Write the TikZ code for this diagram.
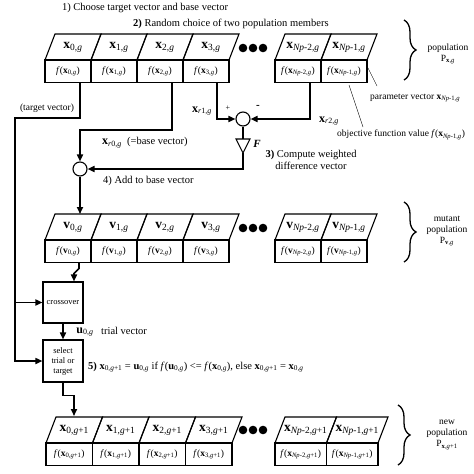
\documentclass[tikz,border=0pt]{standalone}
\usepackage{fontspec}
\setmainfont{Liberation Serif}
\usetikzlibrary{arrows.meta,decorations.pathreplacing}
\newcommand\gi{\textit{g}}
\newcommand\Np{\textit{Np}}
\newcommand\vb[2]{\textbf{#1}\textsubscript{#2}}
\newcommand\fv[2]{\textit{f}(\textbf{#1}\textsubscript{#2})}
% name, x0, ymid, width, top label, f label
\newcommand\pcell[6]{%
  \draw[cell] (#2,#3) -- ++(#4,0) -- ++(10,-26) -- ++(-#4,0) -- cycle;
  \node[toplab] (#1t) at ({#2+#4/2+5},{#3-13}) {#5};
  \node[fcell, minimum width=#4pt] (#1) at ({#2+#4/2},{#3+11.25}) {#6};
}
\begin{document}
\begin{tikzpicture}[x=1pt,y=-1pt,
  cell/.style={line width=1.1pt, line join=miter},
  fcell/.style={draw, line width=1.1pt, minimum height=22.5pt, inner sep=0pt, outer sep=0pt, font=\fontsize{9.5}{11}\selectfont},
  toplab/.style={inner sep=0pt, font=\fontsize{13.5}{16}\selectfont},
  conn/.style={line width=1.6pt},
  arr/.style={conn, -{Triangle[length=7pt,width=6pt]}},
  sumnode/.style={circle, draw, line width=1.1pt, minimum size=14pt, inner sep=0pt},
  procbox/.style={draw, line width=1.1pt, minimum width=40pt, inner sep=1pt, align=center, font=\fontsize{8.5}{10}\selectfont},
  lab/.style={inner sep=0pt, font=\fontsize{10.5}{12}\selectfont},
  small/.style={inner sep=0pt, font=\fontsize{9.5}{11}\selectfont},
  brc/.style={decorate, decoration={brace, amplitude=12pt}, line width=1.3pt},
  pointer/.style={line width=0.4pt},
]
\fill[white] (0,0) rectangle (474,474);
\useasboundingbox (0,0) rectangle (474,474);

% ---------- population x,g ----------
\pcell{fx0}{45}{60}{46}{\vb{x}{0,\gi}}{\fv{x}{0,\gi}}
\pcell{fx1}{91}{60}{46}{\vb{x}{1,\gi}}{\fv{x}{1,\gi}}
\pcell{fx2}{137}{60}{46}{\vb{x}{2,\gi}}{\fv{x}{2,\gi}}
\pcell{fx3}{183}{60}{46}{\vb{x}{3,\gi}}{\fv{x}{3,\gi}}
\pcell{fxa}{275}{60}{46}{\vb{x}{\Np-2,\gi}}{\fv{x}{\Np-2,\gi}}
\pcell{fxb}{321}{60}{46}{\vb{x}{\Np-1,\gi}}{\fv{x}{\Np-1,\gi}}
\foreach \dx in {243,253,263} \fill (\dx,48) circle (4.3pt);

% ---------- mutant population ----------
\pcell{fv0}{45}{240}{46}{\vb{v}{0,\gi}}{\fv{v}{0,\gi}}
\pcell{fv1}{91}{240}{46}{\vb{v}{1,\gi}}{\fv{v}{1,\gi}}
\pcell{fv2}{137}{240}{46}{\vb{v}{2,\gi}}{\fv{v}{2,\gi}}
\pcell{fv3}{183}{240}{46}{\vb{v}{3,\gi}}{\fv{v}{3,\gi}}
\pcell{fva}{275}{240}{46}{\vb{v}{\Np-2,\gi}}{\fv{v}{\Np-2,\gi}}
\pcell{fvb}{321}{240}{46}{\vb{v}{\Np-1,\gi}}{\fv{v}{\Np-1,\gi}}
\foreach \dx in {243,253,263} \fill (\dx,228) circle (4.3pt);

% ---------- new population ----------
\pcell{fn0}{46}{443}{46.5}{\vb{x}{0,\gi+1}}{\fv{x}{0,\gi+1}}
\pcell{fn1}{92.5}{443}{46.5}{\vb{x}{1,\gi+1}}{\fv{x}{1,\gi+1}}
\pcell{fn2}{139}{443}{46.5}{\vb{x}{2,\gi+1}}{\fv{x}{2,\gi+1}}
\pcell{fn3}{185.5}{443}{46.5}{\vb{x}{3,\gi+1}}{\fv{x}{3,\gi+1}}
\pcell{fna}{275}{443}{51.5}{\vb{x}{\Np-2,\gi+1}}{\fv{x}{\Np-2,\gi+1}}
\pcell{fnb}{326.5}{443}{51.5}{\vb{x}{\Np-1,\gi+1}}{\fv{x}{\Np-1,\gi+1}}
\foreach \dx in {243,253,263} \fill (\dx,430) circle (4.3pt);

% ---------- braces and population labels ----------
\draw[brc] (404,20) -- (404,80);
\node[small, align=center] (popx) at (448,54) {population\\P\textsubscript{\textbf{x},\gi}};
\draw[brc] (404,202) -- (404,262);
\node[small, align=center] (popv) at (447,231) {mutant\\population\\P\textsubscript{\textbf{v},\gi}};
\draw[brc] (398,405) -- (398,465);
\node[small, align=center] (popn) at (447,435) {new\\population\\P\textsubscript{\textbf{x},\gi+1}};

% ---------- headings ----------
\node[lab] (h1) at (145,8) {1) Choose target vector and base vector};
\node[lab, anchor=west] (h2) at (133,24) {\textbf{2)} Random choice of two population members};
\node[small, anchor=west] (pv) at (370,98) {parameter vector \vb{x}{\Np-1,\gi}};
\node[small, anchor=west] (ofv) at (337,135) {objective function value \fv{x}{\Np-1,\gi}};
\draw[pointer] (367,66) -- (377,86);
\draw[pointer] (349,85) -- (363,127);

% ---------- difference vector ----------
\node[sumnode] (s1) at (243,119) {};
\node[sumnode] (s2) at (80,169) {};
\coordinate (Ftop) at (243,139);
\coordinate (Fbot) at (243,153);
\draw[line width=1.1pt] (236,139) -- (250,139) -- (Fbot) -- cycle;
\node[inner sep=0pt, font=\fontsize{11}{12}\selectfont\bfseries\itshape] (Flab) at (257,144) {F};
\node[inner sep=0pt, font=\fontsize{8}{9}\selectfont] (plus) at (228,108) {+};
\node[inner sep=0pt, font=\fontsize{11}{12}\selectfont\bfseries] (minus) at (258,107) {-};
\node[small] (xr1) at (202,111) {\fontsize{12}{13}\selectfont\vb{x}{\textit{r}1,\gi}};
\node[small] (xr2) at (329,121) {\fontsize{12}{13}\selectfont\vb{x}{\textit{r}2,\gi}};
\node[lab, align=center] (h3) at (311,160) {\textbf{3)} Compute weighted\\difference vector};
\draw[arr] ([xshift=11pt]fx3.south) |- (s1.west);
\draw[arr] ([xshift=12pt]fxa.south) |- (s1.east);
\draw[conn] (s1.south) -- (Ftop);
\draw[arr] (Fbot) |- (s2.east);

% ---------- base vector and target vector ----------
\coordinate (bturn) at (80,130);
\draw[arr] ([xshift=12pt]fx2.south) |- (bturn) -- (s2.north);
\node[lab, anchor=west] (xr0) at (102,143) {\fontsize{12}{13}\selectfont\vb{x}{\textit{r}0,\gi}\fontsize{10.5}{12}\selectfont\ \ (=base vector)};
\node[lab, anchor=west] (h4) at (103,181) {4) Add to base vector};
\coordinate (v0top) at (80,214);
\draw[arr] (s2.south) -- (v0top);
\node[small] (tv) at (47,108) {(target vector)};

% ---------- crossover and selection ----------
\node[procbox, minimum height=41pt] (cross) at (63,302.5) {crossover};
\node[procbox, minimum height=42pt] (sel) at (63,361) {select\\trial or\\target};
\coordinate (tturn) at (15,118);
\coordinate (tj) at (15,302.5);
\draw[arr] ([xshift=12pt]fx0.south) |- (tturn) |- (sel.west);
\draw[arr] (tj) -- (cross.west);
\draw[arr] ([xshift=11pt]fv0.south) -- ++(0,6) -- ([xshift=11pt,yshift=8pt]cross.north) -- ([xshift=11pt]cross.north);
\draw[arr] (cross.south) -- (sel.north);
\node[lab] (u0) at (85,332) {\fontsize{12}{13}\selectfont\vb{u}{0,\gi}};
\node[lab, anchor=west] (trial) at (101,331) {trial vector};
\node[lab, anchor=west] (h5) at (88,367) {\textbf{5)} \vb{x}{0,\gi+1} = \vb{u}{0,\gi} if \textit{f}(\vb{u}{0,\gi}) <= \fv{x}{0,\gi}, else \vb{x}{0,\gi+1} = \vb{x}{0,\gi}};
\coordinate (n0top) at (74,416);
\draw[arr] (sel.south) -- ++(0,13) -| (n0top);
\end{tikzpicture}
\end{document}
